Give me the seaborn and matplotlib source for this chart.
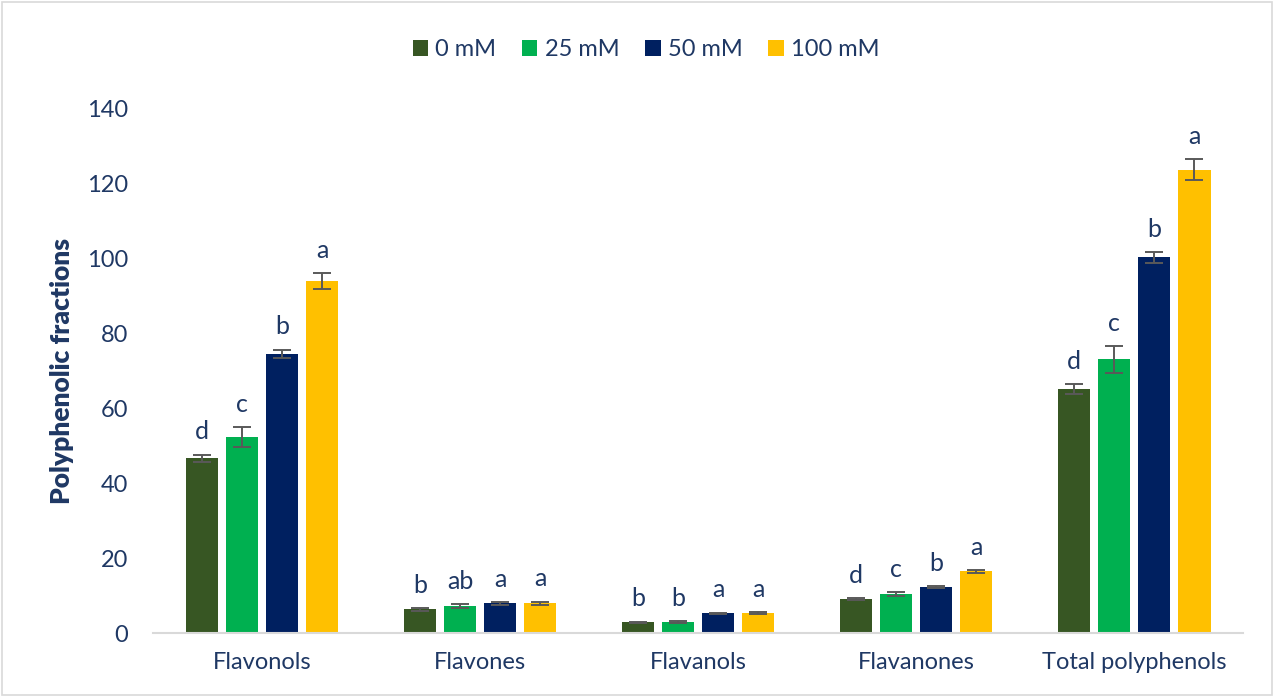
import numpy as np
import pandas as pd
import seaborn as sns
import matplotlib
matplotlib.use("Agg")
import matplotlib.pyplot as plt
from matplotlib.patches import Patch, Rectangle

# ---- data ----
categories = ["Flavonols", "Flavones", "Flavanols", "Flavanones", "Total polyphenols"]
treatments = ["0 mM", "25 mM", "50 mM", "100 mM"]
mean_0 = [46.6, 6.3, 2.85, 9.1, 65.0]
mean_25 = [52.2, 7.2, 3.0, 10.4, 73.0]
mean_50 = [74.5, 7.9, 5.25, 12.3, 100.2]
mean_100 = [93.8, 8.0, 5.3, 16.5, 123.6]
err_0 = [1.0, 0.3, 0.2, 0.3, 1.3]
err_25 = [2.7, 0.6, 0.2, 0.6, 3.6]
err_50 = [1.1, 0.3, 0.2, 0.3, 1.4]
err_100 = [2.1, 0.4, 0.2, 0.4, 2.9]
letters_0 = ["d", "b", "b", "d", "d"]
letters_25 = ["c", "ab", "b", "c", "c"]
letters_50 = ["b", "a", "a", "b", "b"]
letters_100 = ["a", "a", "a", "a", "a"]
y_ticks = [0, 20, 40, 60, 80, 100, 120, 140]

colors = ["#375623", "#00B050", "#002060", "#FFC000"]
text_color = "#1F3864"
FONT = ["Lato", "DejaVu Sans"]

means = [mean_0, mean_25, mean_50, mean_100]
errs = [err_0, err_25, err_50, err_100]
letters = [letters_0, letters_25, letters_50, letters_100]

rows = []
for t, m in zip(treatments, means):
    for c, v in zip(categories, m):
        rows.append({"category": c, "treatment": t, "value": v})
df = pd.DataFrame(rows)

sns.set_theme(style="white")
plt.rcParams["font.family"] = FONT

fig = plt.figure(figsize=(12.74, 6.97), dpi=100)
ax = fig.add_axes([0.120, 0.0918, 0.856, 0.7532])

sns.barplot(data=df, x="category", y="value", hue="treatment",
            order=categories, hue_order=treatments, palette=colors,
            width=0.735, gap=0.2, errorbar=None, legend=False,
            linewidth=0, ax=ax, saturation=1)

for cont, e, lab in zip(ax.containers, errs, letters):
    xs = [p.get_x() + p.get_width() / 2 for p in cont.patches]
    hs = [p.get_height() for p in cont.patches]
    ax.errorbar(xs, hs, yerr=e, fmt="none", ecolor="#595959",
                elinewidth=1.4, capsize=6.5, capthick=1.4, zorder=3)
    for x, h, ee, l in zip(xs, hs, e, lab):
        ax.annotate(l, (x, h + ee), xytext=(0, 8), textcoords="offset points",
                    ha="center", va="bottom", fontsize=18, color=text_color)

ax.set_ylim(0, 140)
ax.set_yticks(y_ticks)
ax.set_xlim(-0.5, len(categories) - 0.5)
ax.set_xlabel("")
ax.set_ylabel("Polyphenolic fractions", fontsize=19, fontweight="heavy",
              color=text_color, labelpad=9)
ax.tick_params(axis="both", length=0, labelsize=17, labelcolor=text_color)
ax.tick_params(axis="y", pad=18)
ax.tick_params(axis="x", pad=14)
for s in ["top", "right", "left"]:
    ax.spines[s].set_visible(False)
ax.spines["bottom"].set_color("#D9D9D9")
ax.spines["bottom"].set_linewidth(1.5)
ax.grid(False)

handles = [Patch(facecolor=c, edgecolor="none", label=t) for c, t in zip(colors, treatments)]
fig.legend(handles=handles, loc="center", bbox_to_anchor=(646 / 1274, 1 - 50 / 697),
           ncol=4, frameon=False, fontsize=17, labelcolor=text_color,
           handlelength=0.65, handleheight=0.65, handletextpad=0.3,
           columnspacing=1.1)

fig.add_artist(Rectangle((0.0015, 0.0025), 0.997, 0.995, transform=fig.transFigure,
                         fill=False, edgecolor="#D9D9D9", linewidth=1.2))

fig.savefig("out.png", dpi=100, facecolor="white")
